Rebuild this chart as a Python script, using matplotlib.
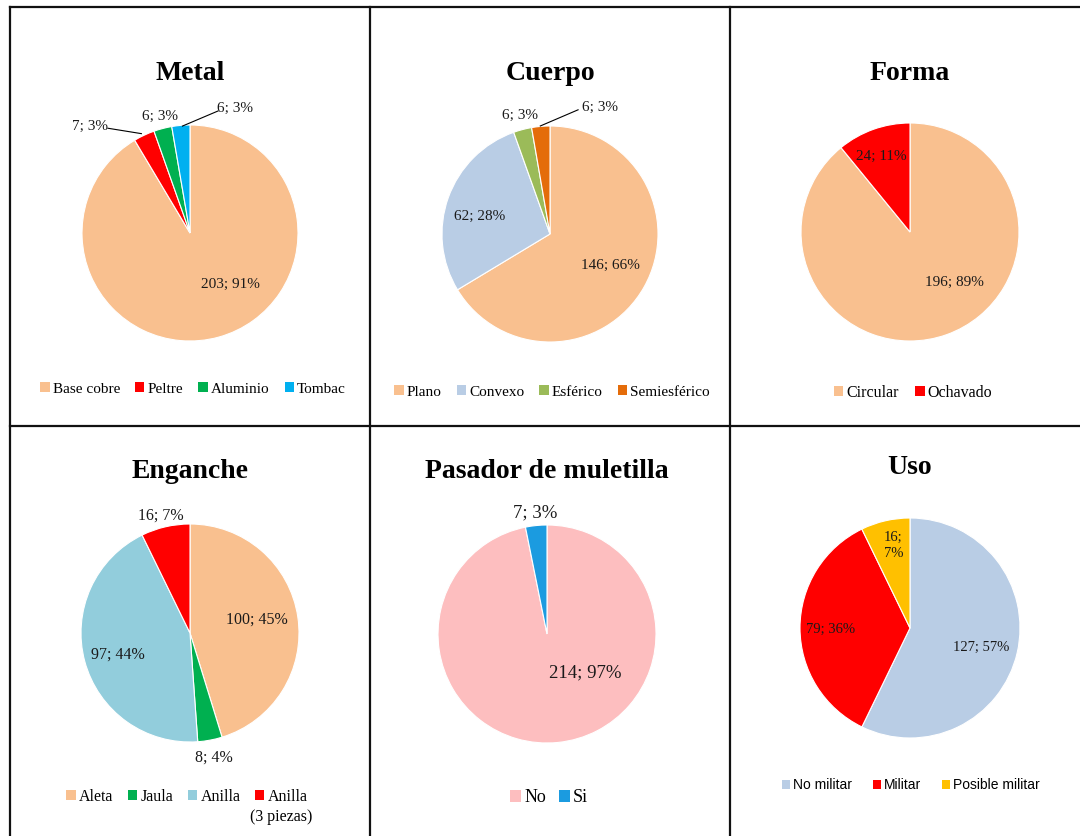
import matplotlib
matplotlib.use('Agg')
import matplotlib.pyplot as plt
from matplotlib.patches import Patch
from matplotlib.lines import Line2D

plt.rcParams['font.family'] = ['Liberation Serif', 'DejaVu Serif']

W, H = 1080, 836

# ---- data ----
metal_names = ['Base cobre', 'Peltre', 'Aluminio', 'Tombac']
metal_counts = [203, 7, 6, 6]

cuerpo_names = ['Plano', 'Convexo', 'Esférico', 'Semiesférico']
cuerpo_counts = [146, 62, 6, 6]

forma_names = ['Circular', 'Ochavado']
forma_counts = [196, 24]

enganche_names = ['Aleta', 'Jaula', 'Anilla', 'Anilla']
enganche_counts = [100, 8, 97, 16]

pasador_names = ['No', 'Si']
pasador_counts = [214, 7]

uso_names = ['No militar', 'Militar', 'Posible militar']
uso_counts = [127, 79, 16]

# ---- colours ----
metal_colors = ['#F9C08F', '#FF0000', '#00B050', '#00B0F0']
cuerpo_colors = ['#F9C08F', '#B9CDE5', '#9BBB59', '#E46C0A']
forma_colors = ['#F9C08F', '#FF0000']
enganche_colors = ['#F9C08F', '#00B050', '#92CDDC', '#FF0000']
pasador_colors = ['#FDBEBF', '#1B9BE0']
uso_colors = ['#B9CDE5', '#FF0000', '#FFC000']


def make_labels(counts, sep='; '):
    total = sum(counts)
    return [f'{v}{sep}{round(100 * v / total)}%' for v in counts]


def draw_panel(fig, title, names, counts, colors, cx, cy, r, title_y,
               leg_y, leg_x, label_pos, label_size, leg_size,
               leaders=(), title_size=20, labels=None, leg_font=None,
               colspace=1.0):
    ax = fig.add_axes([(cx - r) / W, 1 - (cy + r) / H, 2 * r / W, 2 * r / H])
    ax.pie(counts, colors=colors, startangle=90, counterclock=False,
           wedgeprops=dict(edgecolor='white', linewidth=0.8))
    ax.set_xlim(-1, 1)
    ax.set_ylim(-1, 1)
    ax.axis('off')

    if labels is None:
        labels = make_labels(counts)
    for txt, (x, y) in zip(labels, label_pos):
        ax.text(x, y, txt, ha='center', va='center', fontsize=label_size,
                color='#1a1a1a', linespacing=1.3)
    for (x0, y0), (x1, y1) in leaders:
        ax.add_line(Line2D([x0, x1], [y0, y1], color='black', lw=0.8,
                           clip_on=False))

    fig.text(cx / W, 1 - title_y / H, title, ha='center', va='center',
             fontsize=title_size, fontweight='bold')

    handles = [Patch(facecolor=c, edgecolor='none') for c in colors]
    prop = {'size': leg_size}
    if leg_font:
        prop['family'] = leg_font
    leg = fig.legend(handles, names, loc='center',
                     bbox_to_anchor=(leg_x / W, 1 - leg_y / H),
                     ncol=len(names), frameon=False, prop=prop,
                     handlelength=0.6, handleheight=0.6, handletextpad=0.2,
                     columnspacing=colspace, borderpad=0, borderaxespad=0)
    return leg


fig = plt.figure(figsize=(W / 100, H / 100), dpi=100)

# panel borders
for x0, y0, x1, y1 in [(10, 7, 1080, 7), (10, 7, 10, 836),
                       (370, 7, 370, 836), (730, 7, 730, 836),
                       (10, 426, 1080, 426)]:
    fig.add_artist(Line2D([x0 / W, x1 / W], [1 - y0 / H, 1 - y1 / H],
                          color='#111111', lw=1.6))

draw_panel(fig, 'Metal', metal_names, metal_counts, metal_colors,
           190, 233, 108, 73, 389, 193,
           [(0.37, -0.48), (-0.93, 0.99), (-0.28, 1.08), (0.42, 1.15)],
           11, 11,
           leaders=[((-0.76, 0.97), (-0.45, 0.92)),
                    ((0.26, 1.13), (-0.07, 0.99))])

draw_panel(fig, 'Cuerpo', cuerpo_names, cuerpo_counts, cuerpo_colors,
           550, 234, 108, 73, 392, 552,
           [(0.56, -0.29), (-0.65, 0.16), (-0.28, 1.10), (0.46, 1.17)],
           11, 11,
           leaders=[((0.26, 1.15), (-0.09, 1.0))])

draw_panel(fig, 'Forma', forma_names, forma_counts, forma_colors,
           910, 232, 109, 73, 393, 913,
           [(0.41, -0.46), (-0.26, 0.69)],
           11, 11.5)

leg = draw_panel(fig, 'Enganche', enganche_names, enganche_counts,
                 enganche_colors, 190, 633, 109, 472, 797, 187,
                 [(0.61, 0.12), (0.22, -1.14), (-0.66, -0.20), (-0.27, 1.08)],
                 11.5, 11.5, colspace=0.9)

draw_panel(fig, 'Pasador de muletilla', pasador_names, pasador_counts,
           pasador_colors, 547, 634, 109, 472, 798, 549,
           [(0.35, -0.36), (-0.11, 1.11)],
           13.5, 13, colspace=0.7)

uso_labels = make_labels(uso_counts)
uso_labels[2] = make_labels(uso_counts, sep=';\n')[2]
draw_panel(fig, 'Uso', uso_names, uso_counts, uso_colors,
           910, 628, 110, 467, 785, 911,
           [(0.65, -0.18), (-0.72, -0.01), (-0.15, 0.75)],
           10.5, 10, labels=uso_labels,
           leg_font=['Liberation Sans', 'DejaVu Sans'], colspace=1.5)

# second line of the last Enganche legend entry
fig.canvas.draw()
bb = leg.get_texts()[3].get_window_extent()
fig.text((bb.x0 + bb.x1) / 2 / W - 6 / W, (bb.y0 - 12) / H, '(3 piezas)',
         ha='center', va='center', fontsize=11.5)

fig.savefig('out.png', dpi=100, facecolor='white')
